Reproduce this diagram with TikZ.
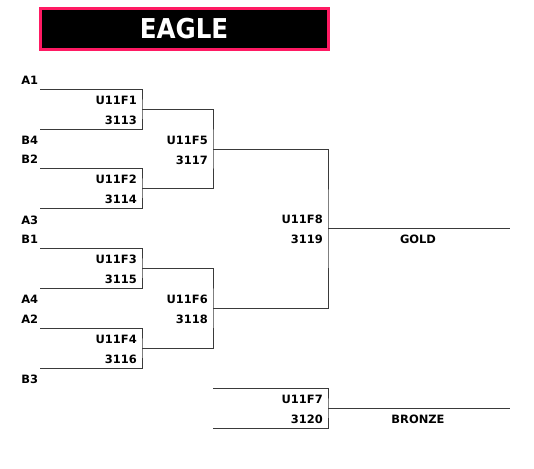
\documentclass[tikz,border=0pt]{standalone}
\usepackage{fontspec}
\setmainfont{DejaVu Sans}
\newfontfamily\titlefont{DejaVu Sans Condensed}
\usepackage{xcolor}
\definecolor{eaglePink}{HTML}{FF1A63}
\definecolor{lineGrey}{HTML}{3A3A3A}
\tikzset{
  team/.style={anchor=west,inner sep=0pt,font=\fontsize{8.6}{10}\selectfont\bfseries},
  game/.style={anchor=east,inner sep=0pt,font=\fontsize{8.6}{10}\selectfont\bfseries},
  medal/.style={inner sep=0pt,font=\fontsize{8.6}{10}\selectfont\bfseries},
  bracket/.style={draw=lineGrey,line width=0.75pt}
}

\begin{document}
\begin{tikzpicture}[x=0.75pt,y=-0.75pt]
  \useasboundingbox (0,0) rectangle (534,468);
  % title
  \draw[eaglePink,fill=black,line width=2.8pt] (40.5,8.5) rectangle (328.5,49.5);
  \node[text=white,font=\titlefont\fontsize{20.5}{24}\selectfont\bfseries] (title) at (184,29) {EAGLE};

  % slots
  \coordinate (sA1) at (40,89);   \coordinate (sB4) at (40,129);
  \coordinate (sB2) at (40,168);  \coordinate (sA3) at (40,208);
  \coordinate (sB1) at (40,248);  \coordinate (sA4) at (40,288);
  \coordinate (sA2) at (40,328);  \coordinate (sB3) at (40,368);
  \coordinate (f1) at (142,109);  \coordinate (f2) at (142,188);
  \coordinate (f3) at (142,268);  \coordinate (f4) at (142,348);
  \coordinate (f5) at (213,149);  \coordinate (f6) at (213,308);
  \coordinate (f8) at (328,228.5);
  \coordinate (l7a) at (213,388); \coordinate (l7b) at (213,428);
  \coordinate (f7) at (328,408);
  \coordinate (gold) at (510,228.5);
  \coordinate (bronze) at (510,408);

  % teams
  \node[team] (A1) at (21,80) {A1};
  \node[team] (B4) at (21,140) {B4};
  \node[team] (B2) at (21,159) {B2};
  \node[team] (A3) at (21,220) {A3};
  \node[team] (B1) at (21,239) {B1};
  \node[team] (A4) at (21,299) {A4};
  \node[team] (A2) at (21,319) {A2};
  \node[team] (B3) at (21,379) {B3};

  % games
  \node[game] (n1) at (137,100) {U11F1};  \node[game] (c1) at (137,120) {3113};
  \node[game] (n2) at (137,179) {U11F2};  \node[game] (c2) at (137,199) {3114};
  \node[game] (n3) at (137,259) {U11F3};  \node[game] (c3) at (137,279) {3115};
  \node[game] (n4) at (137,339) {U11F4};  \node[game] (c4) at (137,359) {3116};
  \node[game] (n5) at (208,140) {U11F5};  \node[game] (c5) at (208,160) {3117};
  \node[game] (n6) at (208,299) {U11F6};  \node[game] (c6) at (208,319) {3118};
  \node[game] (n8) at (323,219) {U11F8};  \node[game] (c8) at (323,239) {3119};
  \node[game] (n7) at (323,399) {U11F7};  \node[game] (c7) at (323,419) {3120};
  \node[medal] (goldlbl) at (418,239) {GOLD};
  \node[medal] (bronzelbl) at (418,419) {BRONZE};

  % brackets
  \draw[bracket] (sA1) -| (f1) |- (sB4);
  \draw[bracket] (sB2) -| (f2) |- (sA3);
  \draw[bracket] (sB1) -| (f3) |- (sA4);
  \draw[bracket] (sA2) -| (f4) |- (sB3);
  \draw[bracket] (f1) -| (f5) |- (f2);
  \draw[bracket] (f3) -| (f6) |- (f4);
  \draw[bracket] (f5) -| (f8) |- (f6);
  \draw[bracket] (f8) -- (gold);
  \draw[bracket] (l7a) -| (f7) |- (l7b);
  \draw[bracket] (f7) -- (bronze);
\end{tikzpicture}
\end{document}
